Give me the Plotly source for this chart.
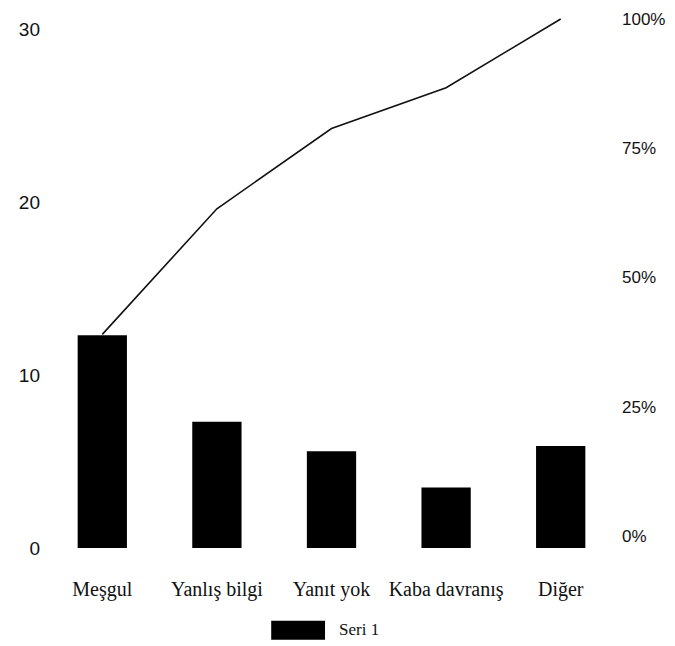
import plotly.graph_objects as go

# Complaint categories and counts (left axis), cumulative share (right axis)
categories = ["Meşgul", "Yanlış bilgi", "Yanıt yok", "Kaba davranış", "Diğer"]
counts = [12.3, 7.3, 5.6, 3.5, 5.9]
cumulative_pct = [39.0, 63.3, 78.8, 86.7, 100.0]

left_ticks = [0, 10, 20, 30]
right_ticks = [0, 25, 50, 75, 100]
right_labels = ["0%", "25%", "50%", "75%", "100%"]
series_name = "Seri 1"

W, H = 675, 646
ML, MR, MT, MB = 45, 55, 10, 96
plot_w = W - ML - MR
plot_h = H - MT - MB

fig = go.Figure()

fig.add_trace(go.Bar(
    x=categories, y=counts, name=series_name,
    marker=dict(color="#000000", line=dict(width=0)),
    yaxis="y", showlegend=False,
))

fig.add_trace(go.Scatter(
    x=categories, y=cumulative_pct, mode="lines",
    line=dict(color="#111111", width=1.6),
    yaxis="y2", showlegend=False,
))

sans = "Liberation Sans, Arial, sans-serif"
serif = "Liberation Serif, Times New Roman, serif"

fig.update_layout(
    width=W, height=H,
    margin=dict(l=ML, r=MR, t=MT, b=MB),
    paper_bgcolor="white", plot_bgcolor="white",
    bargap=0.57,
    xaxis=dict(
        showline=False, showgrid=False, zeroline=False, ticks="",
        tickfont=dict(family=serif, size=20, color="#111"),
        ticklabelstandoff=25,
    ),
    yaxis=dict(
        range=[-0.115, 31.04],
        tickvals=left_ticks,
        showline=False, showgrid=False, zeroline=False, ticks="",
        tickfont=dict(family=sans, size=19, color="#111"),
        ticklabelstandoff=4,
    ),
    yaxis2=dict(
        overlaying="y", side="right",
        range=[-2.70, 101.54],
        tickvals=right_ticks, ticktext=right_labels,
        showline=False, showgrid=False, zeroline=False, ticks="",
        tickfont=dict(family=sans, size=17, color="#111"),
        ticklabelstandoff=3,
    ),
    showlegend=False,
)

# Legend swatch and label beneath the axis
def px_x(px):
    return (px - ML) / plot_w

def px_y(py):
    return (MT + plot_h - py) / plot_h

fig.add_shape(
    type="rect", xref="paper", yref="paper",
    x0=px_x(272), x1=px_x(326), y0=px_y(640), y1=px_y(621),
    fillcolor="#000000", line=dict(width=0),
)
fig.add_annotation(
    xref="paper", yref="paper", x=px_x(338), y=px_y(630),
    text=series_name, showarrow=False, xanchor="left", yanchor="middle",
    font=dict(family=serif, size=17, color="#111"),
)

fig.write_html("out.html")
